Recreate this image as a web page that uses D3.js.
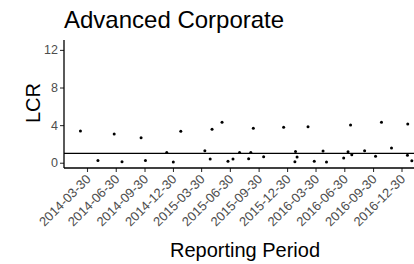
<!DOCTYPE html>
<html>
<head>
<meta charset="utf-8">
<script src="https://cdn.jsdelivr.net/npm/d3@7"></script>
<style>
	body { margin: 0; background: #fff; }
	text { font-family: "Liberation Sans", Arial, sans-serif; }
</style>
</head>
<body>
<div id="chart"></div>
<script>

// reporting dates and LCR values
var periods = ["2014-03-09","2014-05-04","2014-06-25","2014-07-20","2014-09-19","2014-10-03",
	"2014-12-10","2014-12-31","2015-01-24","2015-04-11","2015-04-28","2015-05-04",
	"2015-06-05","2015-06-24","2015-07-10","2015-07-31","2015-08-29","2015-09-05",
	"2015-09-13","2015-10-16","2015-12-19","2016-01-24","2016-01-26","2016-01-31",
	"2016-03-06","2016-03-26","2016-04-23","2016-05-04","2016-06-28","2016-07-12",
	"2016-07-20","2016-07-24","2016-09-03","2016-10-08","2016-10-27","2016-11-28",
	"2017-01-18","2017-01-19","2017-02-01"]

var lcr = [3.37,0.25,3.05,0.1,2.66,0.25,
	1.1,0.07,3.34,1.28,0.39,3.55,
	4.3,0.15,0.39,1.1,0.43,1.1,
	3.66,0.64,3.77,0.1,1.2,0.6,
	3.83,0.15,1.24,0.07,0.5,1.17,
	4.0,0.85,1.28,0.68,4.3,1.56,
	0.79,4.12,0.21]

var tickDates = ["2014-03-30","2014-06-30","2014-09-30","2014-12-30","2015-03-30","2015-06-30",
	"2015-09-30","2015-12-30","2016-03-30","2016-06-30","2016-09-30","2016-12-30"]

var yTicks = [0, 4, 8, 12]
var threshold = 1

var width = 414, height = 264
var panel = {left: 64, right: 414, top: 40, bottom: 168}

var parse = d3.timeParse("%Y-%m-%d")

var data = periods.map(function(d, i) {
	return {date: parse(d), value: lcr[i]}
})

var ticks = tickDates.map(parse)

var x = d3.scaleTime()
	.domain([ticks[0], ticks[ticks.length - 1]])
	.range([87, 401.5])

var y = d3.scaleLinear()
	.domain([-0.56, 13])
	.range([panel.bottom, 40.5])

var svg = d3.select("#chart").append("svg")
	.attr("width", width)
	.attr("height", height)

// title
svg.append("text")
	.attr("x", 64)
	.attr("y", 28)
	.style("font-size", "24px")
	.style("fill", "#000")
	.text("Advanced Corporate")

// x axis
var xAxis = d3.axisBottom(x)
	.tickValues(ticks)
	.tickSize(4)
	.tickFormat(d3.timeFormat("%Y-%m-%d"))

var gx = svg.append("g")
	.attr("transform", "translate(0," + panel.bottom + ")")
	.call(xAxis)

gx.select(".domain").remove()
gx.selectAll(".tick line").attr("stroke", "#333").attr("stroke-width", 1.1)
gx.selectAll(".tick text")
	.style("font-size", "13px")
	.style("fill", "#4d4d4d")
	.attr("text-anchor", "end")
	.attr("dy", null)
	.attr("y", 0)
	.attr("transform", "translate(4,12) rotate(-45)")

// y axis
var yAxis = d3.axisLeft(y)
	.tickValues(yTicks)
	.tickSize(4)

var gy = svg.append("g")
	.attr("transform", "translate(" + panel.left + ",0)")
	.call(yAxis)

gy.select(".domain").remove()
gy.selectAll(".tick line").attr("stroke", "#333").attr("stroke-width", 1.1)
gy.selectAll(".tick text")
	.style("font-size", "12.5px")
	.style("fill", "#4d4d4d")
	.attr("x", -6)

// axis lines
svg.append("line")
	.attr("x1", panel.left).attr("x2", panel.right)
	.attr("y1", panel.bottom).attr("y2", panel.bottom)
	.attr("stroke", "#000").attr("stroke-width", 1.3)

svg.append("line")
	.attr("x1", panel.left).attr("x2", panel.left)
	.attr("y1", panel.top).attr("y2", panel.bottom)
	.attr("stroke", "#000").attr("stroke-width", 1.3)

// threshold line
svg.append("line")
	.attr("x1", panel.left).attr("x2", panel.right)
	.attr("y1", y(threshold)).attr("y2", y(threshold))
	.attr("stroke", "#000").attr("stroke-width", 1.3)

// points
svg.selectAll(".dot")
	.data(data)
	.enter().append("circle")
	.attr("class", "dot")
	.attr("cx", function(d) { return x(d.date) })
	.attr("cy", function(d) { return y(d.value) })
	.attr("r", 1.5)
	.style("fill", "#000")

// axis titles
svg.append("text")
	.attr("x", 245)
	.attr("y", 257)
	.attr("text-anchor", "middle")
	.style("font-size", "20px")
	.text("Reporting Period")

svg.append("text")
	.attr("transform", "translate(40,103) rotate(-90)")
	.attr("text-anchor", "middle")
	.style("font-size", "20px")
	.text("LCR")

</script>
</body>
</html>
